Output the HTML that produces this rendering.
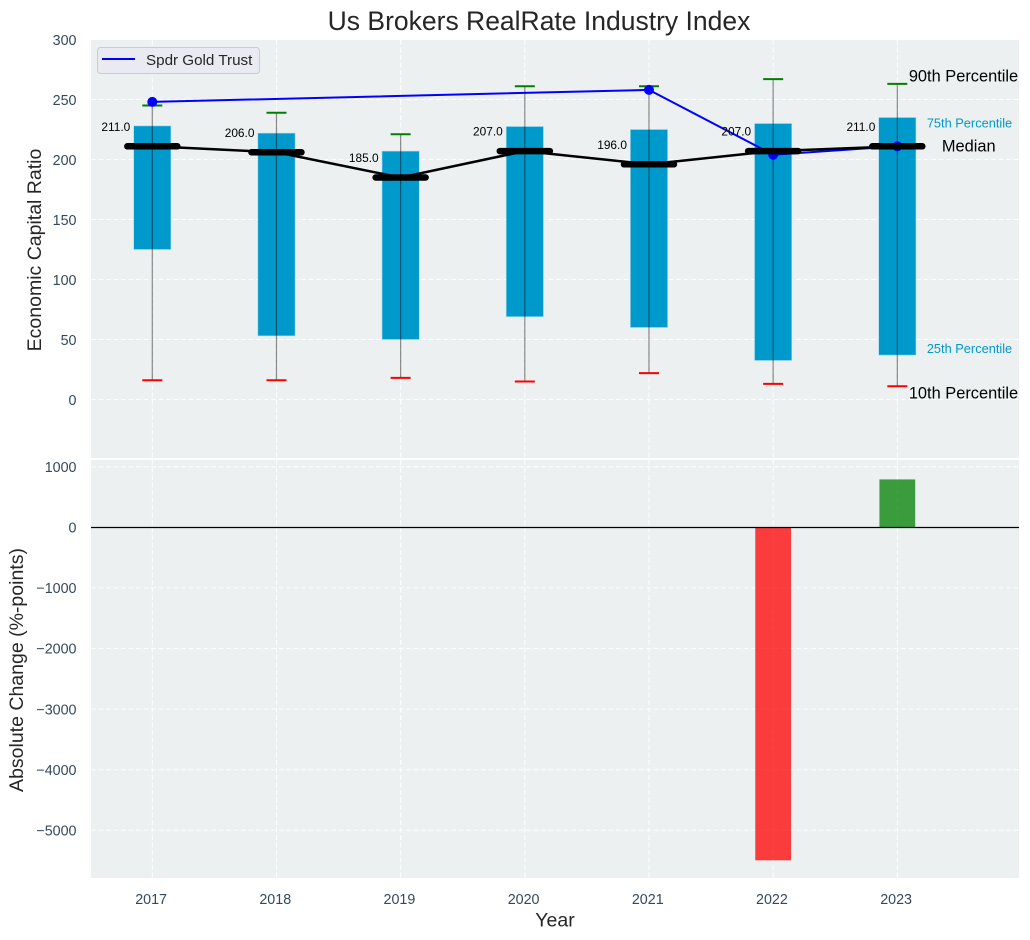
<!DOCTYPE html>
<html>
<head>
<meta charset="utf-8">
<title>Us Brokers RealRate Industry Index</title>
<style>
html,body{margin:0;padding:0;background:#fff;width:1030px;height:940px;overflow:hidden}
svg{display:block;font-family:"Liberation Sans",Arial,sans-serif}
</style>
</head>
<body>
<svg id="chart" xmlns="http://www.w3.org/2000/svg" width="1030" height="940" viewBox="0 0 1030 940"></svg>
<script>
const years = [2017, 2018, 2019, 2020, 2021, 2022, 2023];
const p90 = [245, 239, 221, 261, 261, 267, 263];
const p75 = [228, 222, 207, 227.5, 225, 230, 235];
const medians = [211, 206, 185, 207, 196, 207, 211];
const p25 = [125, 53, 50, 69, 60, 32.5, 37];
const p10 = [16, 16, 18, 15, 22, 13, 11];
const gold = [248, null, null, null, 258, 204, 211];
const changes = [null, null, null, null, null, -5495, 790];
const topTicks = [0, 50, 100, 150, 200, 250, 300];
const bottomTicks = [1000, 0, -1000, -2000, -3000, -4000, -5000];

const svg = document.getElementById('chart');
const NS = 'http://www.w3.org/2000/svg';
const L = 91, R = 1019, T1 = 40, B1 = 458, T2 = 460, B2 = 878;
const PX_PER_YEAR = 124.17;
const x = v => 152.3 + (v - 2017) * PX_PER_YEAR;
const yTop = v => 399.5 - 1.2 * v;
const yBot = v => 527.3 - 0.0606 * v;
const tickColor = '#34495e';
const TICK_FONT = 14.3;
const TITLE_FONT = 19.5;
const ANNOT_BIG = 16.4;
const ANNOT_SMALL = 12.8;

function mk(tag, attrs, text) {
  const e = document.createElementNS(NS, tag);
  for (const k in attrs) e.setAttribute(k, attrs[k]);
  if (text !== undefined) e.textContent = text;
  svg.appendChild(e);
  return e;
}
let el;

el = mk('rect', {x: L, y: T1, width: R - L, height: B1 - T1, fill: '#ecf0f1'});


el = mk('rect', {x: L, y: T2, width: R - L, height: B2 - T2, fill: '#ecf0f1'});



const gridStyle = {stroke: '#ffffff', 'stroke-width': 1, 'stroke-dasharray': '5 2.5', 'stroke-opacity': 0.9};
topTicks.forEach(t => {
  el = mk('line', {x1: L, x2: R, y1: yTop(t), y2: yTop(t), ...gridStyle});
  
  
  el = mk('text', {x: 76.5, y: yTop(t) + 5.5, 'text-anchor': 'end', 'font-size': TICK_FONT, fill: tickColor}, String(t));
  
  
});
bottomTicks.forEach(t => {
  el = mk('line', {x1: L, x2: R, y1: yBot(t), y2: yBot(t), ...gridStyle});
  
  
  el = mk('text', {x: 76.5, y: yBot(t) + 5.2, 'text-anchor': 'end', 'font-size': TICK_FONT, fill: tickColor}, String(t).replace('-', '\u2212'));
  
  
});
years.forEach(yr => {
  el = mk('line', {x1: x(yr), x2: x(yr), y1: T1, y2: B1, ...gridStyle});
  
  
  el = mk('line', {x1: x(yr), x2: x(yr), y1: T2, y2: B2, ...gridStyle});
  
  
  el = mk('text', {x: x(yr) - 1.2, y: 904, 'text-anchor': 'middle', 'font-size': TICK_FONT, fill: tickColor}, String(yr));
  
  
});

/* boxes */
years.forEach((yr, i) => {
  const w = 0.3 * PX_PER_YEAR;
  el = mk('rect', {x: x(yr) - w / 2, y: yTop(p75[i]), width: w, height: yTop(p25[i]) - yTop(p75[i]), fill: '#0099cc', stroke: '#a6dcef', 'stroke-width': 0.6});
  
  
});

/* whiskers */
years.forEach((yr, i) => {
  el = mk('line', {x1: x(yr), x2: x(yr), y1: yTop(p10[i]), y2: yTop(p90[i]), stroke: '#000000', 'stroke-opacity': 0.45, 'stroke-width': 1.2});
  
  
  el = mk('line', {x1: x(yr) - 10, x2: x(yr) + 10, y1: yTop(p90[i]), y2: yTop(p90[i]), stroke: '#008000', 'stroke-width': 2});
  
  
  el = mk('line', {x1: x(yr) - 10, x2: x(yr) + 10, y1: yTop(p10[i]), y2: yTop(p10[i]), stroke: '#ff0000', 'stroke-width': 2});
  
  
});

/* gold series */
const goldPts = years.map((yr, i) => gold[i] === null ? null : [x(yr), yTop(gold[i])]).filter(Boolean);
el = mk('polyline', {points: goldPts.map(p => p.join(',')).join(' '), fill: 'none', stroke: '#0000ff', 'stroke-width': 2, 'stroke-linejoin': 'round'});


years.forEach((yr, i) => {
  if (gold[i] === null) return;
  el = mk('circle', {cx: x(yr), cy: yTop(gold[i]), r: 5, fill: '#0000ff'});
  
  
});

/* median line and thick bars */
el = mk('polyline', {points: years.map((yr, i) => x(yr) + ',' + yTop(medians[i])).join(' '), fill: 'none', stroke: '#000000', 'stroke-width': 2.5});


years.forEach((yr, i) => {
  el = mk('line', {x1: x(yr) - 25, x2: x(yr) + 25, y1: yTop(medians[i]), y2: yTop(medians[i]), stroke: '#000000', 'stroke-width': 6.5, 'stroke-linecap': 'round'});
  
  
  el = mk('text', {x: x(yr) - 22, y: yTop(medians[i]) - 15.5, 'text-anchor': 'end', 'font-size': 11.9, fill: '#000000'}, medians[i].toFixed(1));
  
  
});

/* change bars */
years.forEach((yr, i) => {
  if (changes[i] === null) return;
  const w = 0.288 * PX_PER_YEAR;
  const y0 = yBot(Math.max(changes[i], 0)), y1 = yBot(Math.min(changes[i], 0));
  el = mk('rect', {x: x(yr) - w / 2, y: y0, width: w, height: y1 - y0, fill: changes[i] < 0 ? '#ff0000' : '#008000', 'fill-opacity': 0.75});
  
  
});
el = mk('line', {x1: L, x2: R, y1: 527.5, y2: 527.5, stroke: '#000000', 'stroke-width': 1.2});



/* percentile annotations (positioned from the last box) */
const lastX = x(years[years.length - 1]);
const lastI = years.length - 1;
el = mk('text', {x: lastX + 11.5, y: yTop(p90[lastI]) - 2.2, 'font-size': ANNOT_BIG, fill: '#000000'}, '90th Percentile');


el = mk('text', {x: lastX + 29.5, y: yTop(p75[lastI]) + 10, 'font-size': ANNOT_SMALL, fill: '#0099cc'}, '75th Percentile');


el = mk('text', {x: lastX + 44.5, y: yTop(medians[lastI]) + 5, 'font-size': ANNOT_BIG, fill: '#000000'}, 'Median');


el = mk('text', {x: lastX + 29.5, y: yTop(p25[lastI]) - 2, 'font-size': ANNOT_SMALL, fill: '#0099cc'}, '25th Percentile');


el = mk('text', {x: lastX + 11.5, y: yTop(p10[lastI]) + 12, 'font-size': ANNOT_BIG, fill: '#000000'}, '10th Percentile');



/* legend */
el = mk('rect', {x: 97.5, y: 47.5, width: 162, height: 26, rx: 3, fill: '#eaeaf2', stroke: '#cccccc', 'stroke-width': 1});


el = mk('line', {x1: 102, x2: 135, y1: 59, y2: 59, stroke: '#0000ff', 'stroke-width': 2});


el = mk('text', {x: 146, y: 65, 'font-size': 15.2, fill: '#262626'}, 'Spdr Gold Trust');



/* titles */
el = mk('text', {x: 539, y: 30, 'text-anchor': 'middle', 'font-size': 26.5, fill: '#262626'}, 'Us Brokers RealRate Industry Index');


el = mk('text', {x: 555, y: 926.5, 'text-anchor': 'middle', 'font-size': TITLE_FONT, fill: '#262626'}, 'Year');


el = mk('text', {transform: 'translate(41 250) rotate(-90)', 'text-anchor': 'middle', 'font-size': TITLE_FONT, fill: '#262626'}, 'Economic Capital Ratio');


el = mk('text', {transform: 'translate(23 670) rotate(-90)', 'text-anchor': 'middle', 'font-size': TITLE_FONT, fill: '#262626'}, 'Absolute Change (%-points)');


</script>
</body>
</html>
